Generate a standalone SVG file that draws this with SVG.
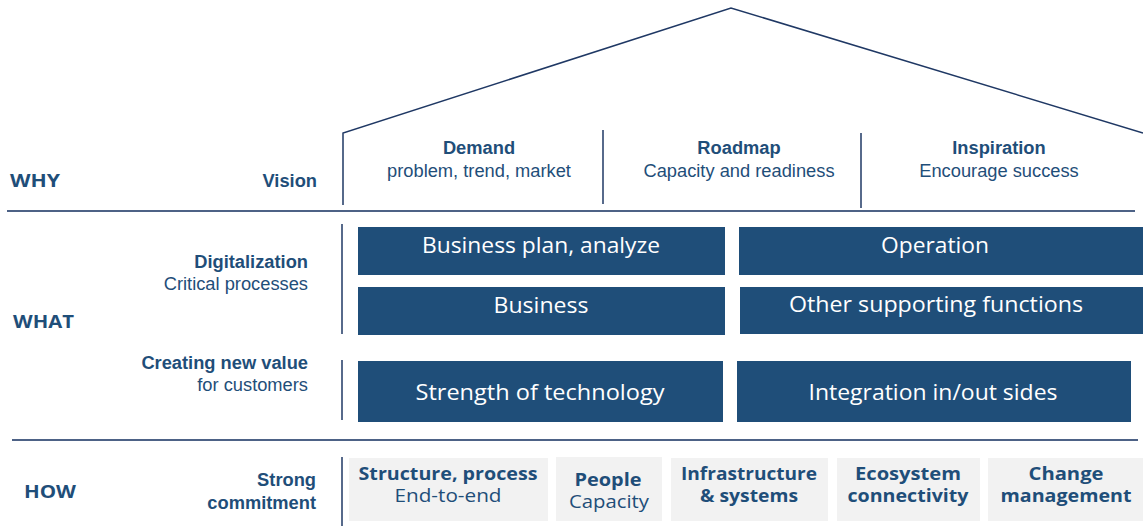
<svg xmlns="http://www.w3.org/2000/svg" width="1143" height="529" viewBox="0 0 1143 529">
<style>
.lbl{font-family:"Liberation Sans",Arial,sans-serif;fill:#1f4e79;font-size:18.3px}
.b{font-weight:bold}
.sec{font-family:"Open Sans","Liberation Sans",sans-serif;font-weight:bold;fill:#1f4e79;font-size:18px}
.box{fill:#1f4e79}
.boxt{font-family:"Open Sans","Liberation Sans",sans-serif;fill:#ffffff;font-size:21px;text-anchor:middle}
.gbox{fill:#f2f2f2}
.gt{font-family:"Open Sans","Liberation Sans",sans-serif;fill:#1f4e79;font-size:18px;text-anchor:middle}
.ln{stroke:#1f3864;stroke-width:1.5;fill:none}
.hl{stroke:#4d6286;stroke-width:2;fill:none}
</style>
<g id="connectors">
<path class="ln" d="M343,205 V133 L731,8 L1143,133"/>
<line class="ln" x1="603" y1="130" x2="603" y2="204"/>
<line class="ln" x1="861" y1="133" x2="861" y2="208"/>
<line class="hl" x1="7" y1="211" x2="1135" y2="211"/>
<line class="hl" x1="12" y1="440" x2="1138" y2="440"/>
<line class="ln" x1="342" y1="224" x2="342" y2="334"/>
<line class="ln" x1="342" y1="360" x2="342" y2="420"/>
<line class="ln" x1="342" y1="457" x2="342" y2="526"/>
</g>
<g id="side-labels">
<text class="sec" x="10" y="187" textLength="50" lengthAdjust="spacingAndGlyphs">WHY</text>
<text class="sec" x="13" y="328" textLength="61" lengthAdjust="spacingAndGlyphs">WHAT</text>
<text class="sec" x="24" y="498" textLength="52" lengthAdjust="spacingAndGlyphs">HOW</text>
<text class="lbl b" x="317" y="187" text-anchor="end">Vision</text>
<text class="lbl b" x="308" y="268" text-anchor="end">Digitalization</text>
<text class="lbl" x="308" y="290" text-anchor="end">Critical processes</text>
<text class="lbl b" x="308" y="369" text-anchor="end">Creating new value</text>
<text class="lbl" x="308" y="391" text-anchor="end">for customers</text>
<text class="lbl b" x="316" y="486" text-anchor="end">Strong</text>
<text class="lbl b" x="316" y="509" text-anchor="end">commitment</text>
</g>
<g id="demand">
<text class="lbl b" x="479" y="154" text-anchor="middle">Demand</text>
<text class="lbl" x="479" y="177" text-anchor="middle">problem, trend, market</text>
</g>
<g id="roadmap">
<text class="lbl b" x="739" y="154" text-anchor="middle">Roadmap</text>
<text class="lbl" x="739" y="177" text-anchor="middle">Capacity and readiness</text>
</g>
<g id="inspiration">
<text class="lbl b" x="999" y="154" text-anchor="middle">Inspiration</text>
<text class="lbl" x="999" y="177" text-anchor="middle">Encourage success</text>
</g>
<g id="business-plan"><rect class="box" x="358" y="227" width="367" height="48"/><text class="boxt" x="541" y="253" textLength="238" lengthAdjust="spacingAndGlyphs">Business plan, analyze</text></g>
<g id="operation"><rect class="box" x="739" y="227" width="404" height="48"/><text class="boxt" x="935" y="253" textLength="108" lengthAdjust="spacingAndGlyphs">Operation</text></g>
<g id="business"><rect class="box" x="358" y="287" width="367" height="48"/><text class="boxt" x="541" y="313" textLength="95" lengthAdjust="spacingAndGlyphs">Business</text></g>
<g id="other-supporting"><rect class="box" x="740" y="287" width="403" height="47"/><text class="boxt" x="936" y="312" textLength="294" lengthAdjust="spacingAndGlyphs">Other supporting functions</text></g>
<g id="strength"><rect class="box" x="358" y="361" width="365" height="61"/><text class="boxt" x="540" y="400" font-size="22" textLength="249" lengthAdjust="spacingAndGlyphs">Strength of technology</text></g>
<g id="integration"><rect class="box" x="737" y="361" width="394" height="61"/><text class="boxt" x="933" y="400" font-size="22" textLength="249" lengthAdjust="spacingAndGlyphs">Integration in/out sides</text></g>
<g id="structure"><rect class="gbox" x="349" y="458" width="199" height="63"/><text class="gt b" x="448" y="480" textLength="179" lengthAdjust="spacingAndGlyphs">Structure, process</text><text class="gt" x="448" y="502" textLength="107" lengthAdjust="spacingAndGlyphs">End-to-end</text></g>
<g id="people"><rect class="gbox" x="556" y="457" width="106" height="64"/><text class="gt b" x="608" y="486" textLength="67" lengthAdjust="spacingAndGlyphs">People</text><text class="gt" x="609" y="508" textLength="80" lengthAdjust="spacingAndGlyphs">Capacity</text></g>
<g id="infrastructure"><rect class="gbox" x="671" y="458" width="157" height="63"/><text class="gt b" x="749" y="480" textLength="136" lengthAdjust="spacingAndGlyphs">Infrastructure</text><text class="gt b" x="749" y="502" textLength="98" lengthAdjust="spacingAndGlyphs">&amp; systems</text></g>
<g id="ecosystem"><rect class="gbox" x="837" y="458" width="143" height="63"/><text class="gt b" x="908" y="480" textLength="106" lengthAdjust="spacingAndGlyphs">Ecosystem</text><text class="gt b" x="908" y="502" textLength="121" lengthAdjust="spacingAndGlyphs">connectivity</text></g>
<g id="change"><rect class="gbox" x="988" y="458" width="155" height="63"/><text class="gt b" x="1066" y="480" textLength="75" lengthAdjust="spacingAndGlyphs">Change</text><text class="gt b" x="1066" y="502" textLength="131" lengthAdjust="spacingAndGlyphs">management</text></g>
</svg>
